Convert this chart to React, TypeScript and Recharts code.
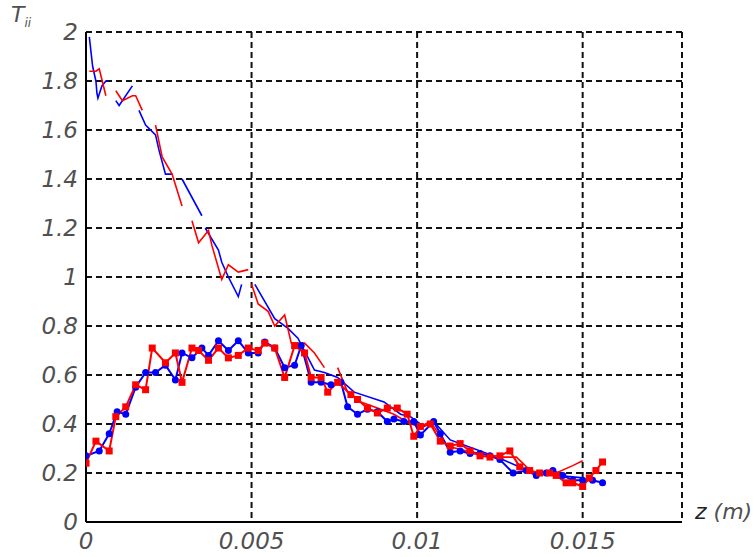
import React from 'react';
import { LineChart, Line, XAxis, YAxis, CartesianGrid } from 'recharts';

// upper thin curves (null = break in the trace)
const blueThinZ = [0.0001, 0.0002, 0.0003, 0.00033, 0.00036, 0.00048, 0.0006, 0.00068, 0.0008, 0.0009, 0.001, 0.0014, 0.0015, 0.0016, 0.0018, 0.0021, 0.0022, 0.0024, 0.0026, 0.0028, 0.0029, 0.0035, 0.00355, 0.0036, 0.004, 0.0041, 0.0043, 0.0046, 0.0047, 0.0049, 0.0051, 0.0057, 0.0061, 0.0064, 0.0069, 0.0072, 0.0076, 0.0081, 0.009, 0.0095, 0.0098, 0.0102, 0.0105, 0.011, 0.0125, 0.0135, 0.015];
const blueThinT = [1.98, 1.86, 1.8, 1.75, 1.73, 1.78, 1.8, 1.8, null, 1.72, 1.7, 1.78, null, 1.68, 1.62, 1.58, 1.52, 1.42, 1.42, null, 1.4, 1.25, null, 1.2, 1.11, 1.06, 1.0, 0.92, 0.97, null, 0.97, 0.83, 0.79, 0.75, 0.62, 0.61, 0.59, 0.53, 0.49, 0.44, 0.43, 0.39, 0.41, 0.335, 0.26, 0.2, 0.18];

const redThinZ = [0.0001, 0.0003, 0.0004, 0.0006, 0.00075, 0.0009, 0.0011, 0.0014, 0.0015, 0.0017, 0.0019, 0.0021, 0.0023, 0.0026, 0.0029, 0.003, 0.0032, 0.0034, 0.0037, 0.0038, 0.0041, 0.0043, 0.0046, 0.0049, 0.00495, 0.005, 0.0052, 0.0055, 0.0057, 0.006, 0.0062, 0.0066, 0.0069, 0.0072, 0.0074, 0.0076, 0.0079, 0.0083, 0.0088, 0.0093, 0.0098, 0.0101, 0.0104, 0.0109, 0.0115, 0.0125, 0.013, 0.0135, 0.0142, 0.0147, 0.015];
const redThinT = [1.84, 1.84, 1.85, 1.74, null, 1.76, 1.72, 1.74, 1.74, 1.68, null, 1.62, 1.49, 1.42, 1.29, null, 1.23, 1.14, 1.19, 1.13, 0.99, 1.05, 1.02, 1.03, null, 0.97, 0.89, 0.86, 0.8, 0.845, 0.73, 0.73, 0.69, 0.63, null, 0.63, 0.53, 0.49, 0.465, 0.44, 0.4, 0.39, 0.41, 0.31, 0.29, 0.265, 0.265, 0.2, 0.2, 0.23, 0.25];

// lower curves with markers
const blueDotZ = [0, 0.0004, 0.0007, 0.00094, 0.0012, 0.0015, 0.0018, 0.0021, 0.0024, 0.0027, 0.0029, 0.0032, 0.0035, 0.0037, 0.004, 0.0043, 0.0046, 0.0049, 0.0052, 0.0054, 0.0057, 0.006, 0.0063, 0.0065, 0.0068, 0.0071, 0.0074, 0.0077, 0.0079, 0.0082, 0.0085, 0.0088, 0.0091, 0.0093, 0.0096, 0.0099, 0.0101, 0.0105, 0.0107, 0.011, 0.0113, 0.0116, 0.0119, 0.0122, 0.0125, 0.0129, 0.0133, 0.0136, 0.0139, 0.0141, 0.0144, 0.0147, 0.015, 0.0153, 0.0156];
const blueDotT = [0.27, 0.29, 0.36, 0.45, 0.44, 0.55, 0.61, 0.61, 0.64, 0.58, 0.69, 0.67, 0.71, 0.68, 0.74, 0.7, 0.74, 0.69, 0.69, 0.735, 0.71, 0.63, 0.64, 0.72, 0.57, 0.57, 0.56, 0.57, 0.47, 0.44, 0.46, 0.45, 0.41, 0.42, 0.41, 0.41, 0.355, 0.41, 0.36, 0.285, 0.29, 0.28, 0.28, 0.27, 0.255, 0.2, 0.21, 0.19, 0.2, 0.21, 0.19, 0.17, 0.17, 0.17, 0.16];

const redDotZ = [0, 0.0003, 0.0007, 0.0009, 0.0012, 0.0015, 0.0018, 0.002, 0.0024, 0.0027, 0.0029, 0.0032, 0.0034, 0.0037, 0.004, 0.0043, 0.0046, 0.0049, 0.0052, 0.0054, 0.0057, 0.006, 0.0063, 0.0066, 0.0068, 0.0071, 0.0073, 0.0076, 0.008, 0.0082, 0.0085, 0.0088, 0.0091, 0.0094, 0.0097, 0.0099, 0.0101, 0.0104, 0.0107, 0.011, 0.0113, 0.0116, 0.0119, 0.0122, 0.0125, 0.0128, 0.0131, 0.0134, 0.0137, 0.014, 0.0142, 0.0145, 0.0147, 0.015, 0.0152, 0.0154, 0.0156];
const redDotT = [0.24, 0.33, 0.29, 0.43, 0.47, 0.56, 0.54, 0.71, 0.65, 0.69, 0.57, 0.71, 0.7, 0.66, 0.71, 0.67, 0.68, 0.71, 0.7, 0.73, 0.71, 0.59, 0.72, 0.69, 0.59, 0.59, 0.53, 0.57, 0.52, 0.5, 0.465, 0.445, 0.465, 0.465, 0.44, 0.35, 0.39, 0.4, 0.33, 0.31, 0.32, 0.29, 0.27, 0.265, 0.27, 0.29, 0.225, 0.21, 0.2, 0.2, 0.19, 0.16, 0.16, 0.145, 0.18, 0.21, 0.245];

const zTicks = [0, 0.005, 0.01, 0.015];
const tTicks = [0, 0.2, 0.4, 0.6, 0.8, 1, 1.2, 1.4, 1.6, 1.8, 2];

const zip = (zs: number[], ts: (number | null)[]) => zs.map((z, i) => ({ z, t: ts[i] }));

const tickFont = {
  fill: '#505050',
  fontSize: 23,
  fontStyle: 'italic',
  fontFamily: 'DejaVu Sans, sans-serif',
};

const SquareDot = (props: any) => {
  const { cx, cy, index } = props;
  if (cx == null || cy == null) return null;
  return <rect key={`sq-${index}`} x={cx - 3.5} y={cy - 3.5} width={7} height={7} fill="#ff0000" />;
};

export default function App() {
  return (
    <div style={{ position: 'fixed', left: 0, top: 0, width: 755, height: 557, background: '#fff' }}>
      <LineChart width={755} height={557} margin={{ top: 32, right: 73, bottom: 0, left: 0 }}>
        <CartesianGrid stroke="#111" strokeWidth={2} strokeDasharray="6 4" />
        <XAxis
          type="number"
          dataKey="z"
          domain={[0, 0.018]}
          ticks={zTicks}
          allowDataOverflow
          height={35}
          tickLine={false}
          tickSize={8}
          tickMargin={3}
          axisLine={{ stroke: '#000', strokeWidth: 2 }}
          tick={tickFont}
          tickFormatter={(v: number) => String(v)}
        />
        <YAxis
          type="number"
          domain={[0, 2]}
          ticks={tTicks}
          width={86}
          tickLine={false}
          tickSize={8}
          tickMargin={0}
          axisLine={{ stroke: '#000', strokeWidth: 2 }}
          tick={tickFont}
          tickFormatter={(v: number) => String(v)}
        />
        <Line data={zip(blueThinZ, blueThinT)} dataKey="t" stroke="#0000ff" strokeWidth={1.6} dot={false} isAnimationActive={false} />
        <Line data={zip(redThinZ, redThinT)} dataKey="t" stroke="#ff0000" strokeWidth={1.6} dot={false} isAnimationActive={false} />
        <Line data={zip(blueDotZ, blueDotT)} dataKey="t" stroke="#0000ff" strokeWidth={2} dot={{ r: 3.5, fill: '#0000ff', stroke: '#0000ff', strokeWidth: 0 }} isAnimationActive={false} />
        <Line data={zip(redDotZ, redDotT)} dataKey="t" stroke="#ff0000" strokeWidth={2} dot={<SquareDot />} isAnimationActive={false} />
      </LineChart>
      <div style={{ position: 'absolute', left: 11, top: 2, fontFamily: 'DejaVu Sans, sans-serif', fontStyle: 'italic', color: '#505050', fontSize: 22, lineHeight: '26px' }}>
        T<sub style={{ fontSize: 12 }}>ii</sub>
      </div>
      <div style={{ position: 'absolute', left: 695, top: 499, fontFamily: 'DejaVu Sans, sans-serif', fontStyle: 'italic', fontSize: 22, whiteSpace: 'nowrap' }}>
        <span style={{ color: '#222' }}>z</span> <span style={{ color: '#505050' }}>(m)</span>
      </div>
    </div>
  );
}
